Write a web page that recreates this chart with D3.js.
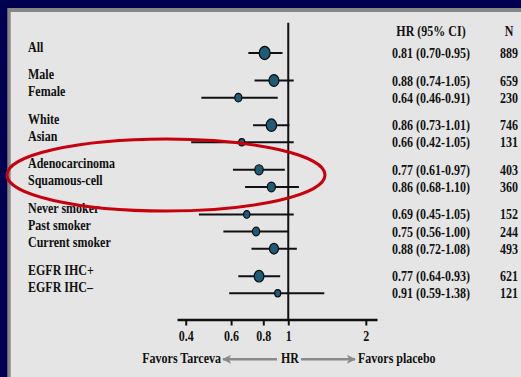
<!DOCTYPE html>
<html>
<head>
<meta charset="utf-8">
<script src="https://cdn.jsdelivr.net/npm/d3@7"></script>
<style>
  html, body { margin: 0; padding: 0; background: #000050; }
  svg { display: block; }
  text { font-family: "Liberation Serif", "Times New Roman", serif; font-weight: bold; fill: #111; }
</style>
</head>
<body>
<svg id="chart" width="521" height="377"></svg>
<script>
// Subgroup forest plot: hazard ratio (95% CI) for Tarceva vs placebo
const subgroups = ["All", "Male", "Female", "White", "Asian", "Adenocarcinoma", "Squamous-cell",
                   "Never smoker", "Past smoker", "Current smoker", "EGFR IHC+", "EGFR IHC\u2013"];
const groupOf   = [0, 1, 1, 2, 2, 3, 3, 4, 4, 4, 5, 5];
const hr        = [0.81, 0.88, 0.64, 0.86, 0.66, 0.77, 0.86, 0.69, 0.75, 0.88, 0.77, 0.91];
const ciLow     = [0.70, 0.74, 0.46, 0.73, 0.42, 0.61, 0.68, 0.45, 0.56, 0.72, 0.64, 0.59];
const ciHigh    = [0.95, 1.05, 0.91, 1.01, 1.05, 0.97, 1.10, 1.05, 1.00, 1.08, 0.93, 1.38];
const nPatients = [889, 659, 230, 746, 131, 403, 360, 152, 244, 493, 621, 121];
const tickValues = [0.4, 0.6, 0.8, 1, 2];
const hrDomain = [0.37, 2.21];

const W = 521, H = 377;
const svg = d3.select("#chart");

// Slide frame: navy edge, grey bevel, light panel
svg.append("rect").attr("x", 0).attr("y", 0).attr("width", W).attr("height", H).attr("fill", "#000050");
svg.append("rect").attr("x", 7.3).attr("y", 8).attr("width", W).attr("height", H).attr("fill", "#868686");
svg.append("rect").attr("x", 10.7).attr("y", 12).attr("width", W).attr("height", H).attr("fill", "#e5e5e5");

const gapUnits = 0.608;
const slot = (i) => i + groupOf[i] * gapUnits;
const y = d3.scaleLinear()
  .domain([0, slot(subgroups.length - 1)])
  .range([53, 293.3]);

const x = d3.scaleLog().domain(hrDomain).range([177, 377]);
const r = d3.scaleSqrt().domain([121, 889]).range([3, 5.5]);

const axisY = 319.5;

// Line of no effect at HR = 1
svg.append("line")
  .attr("x1", x(1)).attr("x2", x(1))
  .attr("y1", 22.7).attr("y2", axisY)
  .attr("stroke", "#111").attr("stroke-width", 2);

// Axis
const axis = d3.axisBottom(x)
  .tickValues(tickValues)
  .tickFormat(d => String(d))
  .tickSize(6)
  .tickSizeOuter(0);
const gAxis = svg.append("g").attr("transform", `translate(0,${axisY})`).call(axis);
gAxis.select(".domain").attr("stroke", "#111").attr("stroke-width", 2.5);
gAxis.selectAll(".tick line").attr("stroke", "#111").attr("stroke-width", 2);
gAxis.selectAll(".tick text")
  .attr("y", 21.5).attr("dy", 0)
  .attr("font-family", "Liberation Serif, serif")
  .attr("font-weight", "bold").attr("font-size", 12).attr("fill", "#111");

const idx = d3.range(subgroups.length);

// Confidence intervals
svg.append("g").selectAll("line").data(idx).join("line")
  .attr("x1", i => x(ciLow[i])).attr("x2", i => x(ciHigh[i]))
  .attr("y1", i => y(slot(i))).attr("y2", i => y(slot(i)))
  .attr("stroke", "#111").attr("stroke-width", 2);

// Point estimates sized by number of patients
svg.append("g").selectAll("ellipse").data(idx).join("ellipse")
  .attr("cx", i => x(hr[i])).attr("cy", i => y(slot(i)))
  .attr("rx", i => r(nPatients[i])).attr("ry", i => r(nPatients[i]) * 1.2)
  .attr("fill", "#1d5b78").attr("stroke", "#0a0a0a").attr("stroke-width", 1.2);

// Subgroup labels
svg.append("g").selectAll("text").data(idx).join("text")
  .attr("x", 28).attr("y", i => y(slot(i)) - 1.5)
  .attr("font-size", 12)
  .text(i => subgroups[i]);

// HR (95% CI) and N columns
const fmt = d3.format(".2f");
svg.append("text").attr("x", 431).attr("y", 36).attr("text-anchor", "middle")
  .attr("font-size", 12).text("HR (95% CI)");
svg.append("text").attr("x", 509).attr("y", 36).attr("text-anchor", "middle")
  .attr("font-size", 12).text("N");
svg.append("g").selectAll("text").data(idx).join("text")
  .attr("x", 431).attr("y", i => y(slot(i)) + 5).attr("text-anchor", "middle")
  .attr("font-size", 12)
  .text(i => `${fmt(hr[i])} (${fmt(ciLow[i])}-${fmt(ciHigh[i])})`);
svg.append("g").selectAll("text").data(idx).join("text")
  .attr("x", 509).attr("y", i => y(slot(i)) + 5).attr("text-anchor", "middle")
  .attr("font-size", 12)
  .text(i => nPatients[i]);

// Direction legend under the axis
const defs = svg.append("defs");
defs.append("marker").attr("id", "head")
  .attr("viewBox", "0 0 10 10").attr("refX", 9).attr("refY", 5)
  .attr("markerWidth", 9).attr("markerHeight", 9)
  .attr("markerUnits", "userSpaceOnUse").attr("orient", "auto")
  .append("path").attr("d", "M0,0 L10,5 L0,10 L2.5,5 Z").attr("fill", "#8a8a8a");

const legY = 359.3;
svg.append("text").attr("x", 221).attr("y", 363).attr("text-anchor", "end")
  .attr("font-size", 12).text("Favors Tarceva");
svg.append("line").attr("x1", 277).attr("x2", 223).attr("y1", legY).attr("y2", legY)
  .attr("stroke", "#8a8a8a").attr("stroke-width", 2.4).attr("marker-end", "url(#head)");
svg.append("text").attr("x", 281).attr("y", 363).attr("font-size", 12).text("HR");
svg.append("line").attr("x1", 301).attr("x2", 355).attr("y1", legY).attr("y2", legY)
  .attr("stroke", "#8a8a8a").attr("stroke-width", 2.4).attr("marker-end", "url(#head)");
svg.append("text").attr("x", 358).attr("y", 363).attr("font-size", 12).text("Favors placebo");

// Hand-drawn highlight around the histology subgroups
svg.append("ellipse")
  .attr("cx", 166).attr("cy", 175).attr("rx", 159).attr("ry", 36)
  .attr("fill", "none").attr("stroke", "#c8000c").attr("stroke-width", 3);

// Slightly taller lettering, as on the slide
svg.selectAll("text").each(function () {
  const t = d3.select(this);
  const tx = +t.attr("x") || 0, ty = +t.attr("y") || 0;
  t.attr("x", 0).attr("y", 0)
   .attr("transform", `translate(${tx},${ty}) scale(1,1.15)`);
});
</script>
</body>
</html>
